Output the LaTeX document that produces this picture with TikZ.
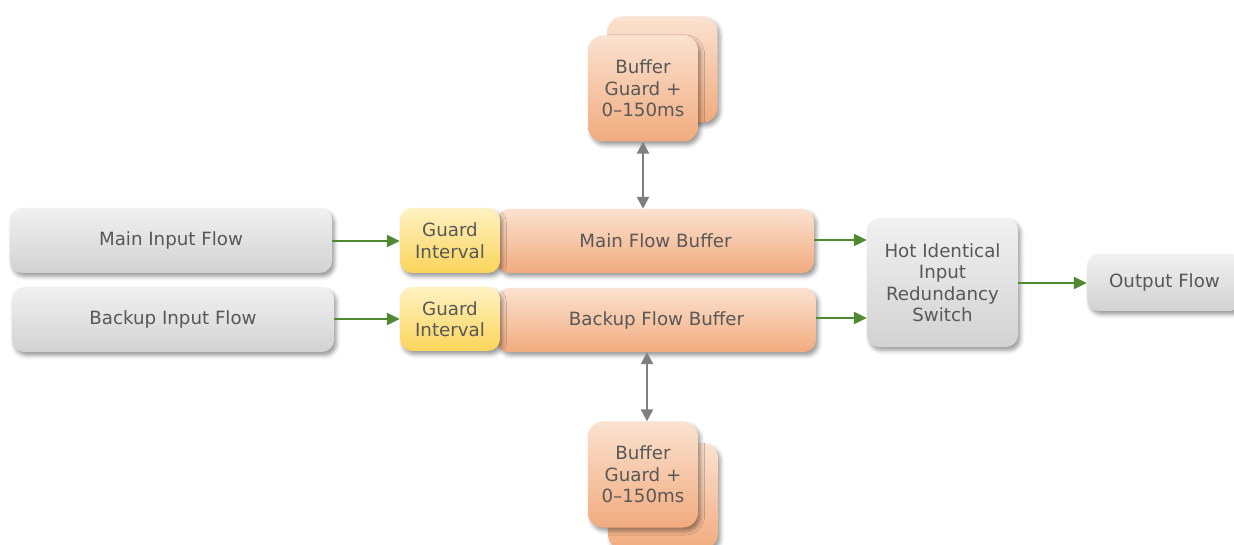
\documentclass[tikz,border=0pt]{standalone}
\usepackage{fontspec}
\setmainfont{DejaVu Sans}
\usetikzlibrary{shadows.blur,arrows.meta}

\definecolor{txt}{HTML}{585858}
\definecolor{gtop}{HTML}{F1F1F1}
\definecolor{gmid}{HTML}{E0E0E0}
\definecolor{gbot}{HTML}{D2D2D2}
\definecolor{otop}{HTML}{FBE2D0}
\definecolor{omid}{HTML}{F6C7A6}
\definecolor{obot}{HTML}{F1AB7E}
\definecolor{ytop}{HTML}{FFF2C2}
\definecolor{ymid}{HTML}{FEE38C}
\definecolor{ybot}{HTML}{FBD45A}
\definecolor{flow}{HTML}{4F8A32}
\definecolor{link}{HTML}{7F7F7F}

\tikzset{
  box/.style={rounded corners=12bp, draw=none, text=txt, align=center,
    inner sep=0pt, font=\fontsize{18.3}{21.5}\selectfont,
    blur shadow={shadow xshift=2.5bp, shadow yshift=-3.5bp,
      shadow blur radius=4bp, shadow opacity=40}},
  graybox/.style={box, top color=gtop, middle color=gmid, bottom color=gbot},
  orangebox/.style={box, top color=otop, middle color=omid, bottom color=obot},
  yellowbox/.style={box, top color=ytop, middle color=ymid, bottom color=ybot},
  stackbox/.style={orangebox, rounded corners=15bp, minimum width=110bp, minimum height=106bp},
  flowarrow/.style={draw=flow, line width=2.3bp, -{Triangle[length=13bp,width=12bp]}},
  linkarrow/.style={draw=link, line width=2.4bp,
    {Triangle[length=12bp,width=12bp]}-{Triangle[length=12bp,width=12bp]}},
}

\begin{document}
\begin{tikzpicture}[x=1bp, y=-1bp]
\useasboundingbox (0,0) rectangle (1234,545);

% inputs
\node[graybox, minimum width=322bp, minimum height=65bp] (mainin) at (171,240.5) {Main Input Flow};
\node[graybox, minimum width=322bp, minimum height=65bp] (backin) at (173,319.5) {Backup Input Flow};

% flow buffers (drawn before the guard intervals, which sit on top)
\node[orangebox, minimum width=317bp, minimum height=64bp] (mainbuf) at (655.5,241) {Main Flow Buffer};
\node[orangebox, minimum width=319bp, minimum height=64bp] (backbuf) at (656.5,320) {Backup Flow Buffer};

% guard intervals
\node[yellowbox, minimum width=100bp, minimum height=65bp] (guard1) at (450,240.5) {Guard\\Interval};
\node[yellowbox, minimum width=100bp, minimum height=64bp] (guard2) at (450,319) {Guard\\Interval};

% switch and output
\node[graybox, minimum width=151bp, minimum height=129bp] (switch) at (942.5,282.5) {Hot Identical\\Input\\Redundancy\\Switch};
\node[graybox, minimum width=155bp, minimum height=57bp] (output) at (1164.5,282.5) {Output Flow};

% buffer guard stacks
\node[stackbox] (topback) at (662.5,69.5) {};
\node[stackbox] (topbuf) at (643,88.5) {Buffer\\Guard +\\0--150ms};
\node[stackbox] (botback) at (663,496) {};
\node[stackbox] (botbuf) at (643,474.5) {Buffer\\Guard +\\0--150ms};

% connectors
\draw[flowarrow] (mainin.east |- 0,241) -- (guard1.west |- 0,241);
\draw[flowarrow] (backin.east |- 0,319) -- (guard2.west |- 0,319);
\draw[flowarrow] (mainbuf.east |- 0,240) -- (switch.west |- 0,240);
\draw[flowarrow] (backbuf.east |- 0,318) -- (switch.west |- 0,318);
\draw[flowarrow] (switch.east |- 0,283) -- (output.west |- 0,283);
\draw[linkarrow] (topbuf.south) -- (topbuf.south |- mainbuf.north);
\draw[linkarrow] ([xshift=4bp]botbuf.north) -- ([xshift=4bp]botbuf.north |- backbuf.south);
\end{tikzpicture}
\end{document}
